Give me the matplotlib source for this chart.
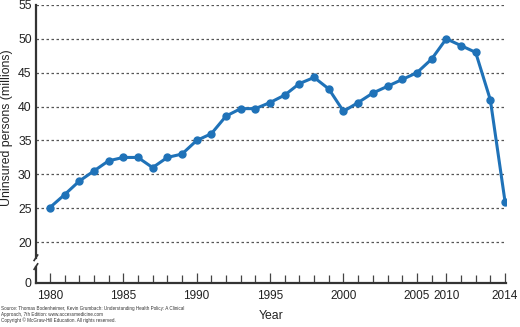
import numpy as np
import matplotlib
matplotlib.use('Agg')
import matplotlib.pyplot as plt

plt.rcParams['font.family'] = ['Liberation Sans', 'DejaVu Sans']

# uninsured persons (millions), one value per plotted point
uninsured = [25.1, 27.0, 29.0, 30.5, 32.0, 32.5, 32.5, 31.0, 32.5, 33.0,
             35.0, 36.0, 38.6, 39.7, 39.7, 40.6, 41.7, 43.4, 44.3, 42.6,
             39.3, 40.6, 42.0, 43.0, 44.0, 45.0, 47.0, 50.0, 49.0, 48.0,
             41.0, 26.0]
label_pos = [0, 5, 10, 15, 20, 25, 27, 31]
label_txt = ['1980', '1985', '1990', '1995', '2000', '2005', '2010', '2014']
grid_vals = [20, 25, 30, 35, 40, 45, 50, 55]
zero_pos = 14   # where "0" sits below the axis break

blue = '#1f72b8'
dark = '#333333'

fig = plt.figure(figsize=(5.2, 3.27), dpi=100)
ax = fig.add_axes([0.069, 0.135, 0.905, 0.85])

x = np.arange(len(uninsured))
for g in grid_vals:
    ax.axhline(g, color='#555555', lw=0.9, ls=(0, (2, 2)), zorder=1)
ax.plot(x, uninsured, '-o', color=blue, lw=2.2, ms=5, zorder=3)

ax.set_xlim(-0.95, 31.1)
ax.set_ylim(zero_pos, 55)

ax.set_yticks([zero_pos] + grid_vals)
ax.set_yticklabels(['0'] + [str(g) for g in grid_vals])
ax.tick_params(axis='y', length=0, pad=3, labelsize=8.8, colors='#222222')

ax.set_xticks(label_pos)
ax.set_xticklabels(label_txt)
ax.set_xticks(x, minor=True)
ax.tick_params(axis='x', which='major', direction='in', length=7.5, width=0.9,
               color='#444444', labelsize=8.5, pad=5, labelcolor='#222222')
ax.tick_params(axis='x', which='minor', direction='in', length=6, width=0.9,
               color='#444444')

for s in ['top', 'right', 'left']:
    ax.spines[s].set_visible(False)
ax.spines['bottom'].set_linewidth(1.6)
ax.spines['bottom'].set_color(dark)

# broken left axis
x0 = -0.95
ax.plot([x0, x0], [zero_pos, 16.4], color=dark, lw=1.6, clip_on=False, zorder=4)
ax.plot([x0, x0], [17.7, 55], color=dark, lw=1.6, clip_on=False, zorder=4)
ax.plot([x0 - 0.12, x0 + 0.12], [16.0, 16.8], color=dark, lw=1.2, clip_on=False, zorder=4)
ax.plot([x0 - 0.12, x0 + 0.12], [17.3, 18.1], color=dark, lw=1.2, clip_on=False, zorder=4)

ax.set_xlabel('Year', fontsize=8.8, color='#222222', labelpad=6)
ax.set_ylabel('Uninsured persons (millions)', fontsize=8.8, color='#222222')
ax.yaxis.set_label_coords(-0.048, 0.56)

fig.text(0.002, 0.052, 'Source: Thomas Bodenheimer, Kevin Grumbach: Understanding Health Policy: A Clinical',
         fontsize=3.3, color='#333333')
fig.text(0.002, 0.034, 'Approach, 7th Edition: www.accessmedicine.com', fontsize=3.3, color='#333333')
fig.text(0.002, 0.016, 'Copyright \u00a9 McGraw-Hill Education. All rights reserved.',
         fontsize=3.3, color='#333333')

fig.savefig('out.png', dpi=100)
